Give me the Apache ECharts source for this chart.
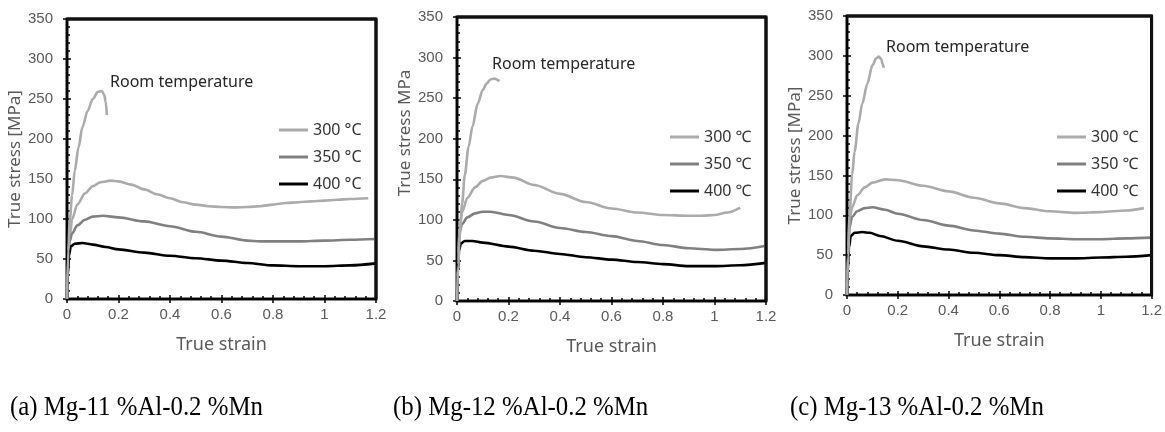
<!DOCTYPE html>
<html><head><meta charset="utf-8">
<script src="https://cdn.jsdelivr.net/npm/echarts@6/dist/echarts.min.js"></script>
<style>html,body{margin:0;padding:0;background:#fff}#c{width:1165px;height:432px}</style>
</head><body><div id="c"></div>
<script>
// ---------- text ----------
const panelCaptions = ['(a) Mg-11 %Al-0.2 %Mn', '(b) Mg-12 %Al-0.2 %Mn', '(c) Mg-13 %Al-0.2 %Mn'];
const yTitles = ['True stress [MPa]', 'True stress MPa', 'True stress [MPa]'];
const xTitle = 'True strain';
const rtLabel = 'Room temperature';
const legendNamesA = ['300 °C', '350 °C', '400 °C'];
const legendNamesBC = ['300 ℃', '350 ℃', '400 ℃'];

// ---------- axes ----------
const xMin = 0, xMax = 1.2, xStep = 0.2;
const yMin = 0, yMax = 350, yStep = 50;

// ---------- data: [true strain, true stress MPa] ----------
// (a) Mg-11%Al-0.2%Mn
const a_rt  = [[0,0],[0.005,60],[0.01,95],[0.02,130],[0.03,160],[0.045,190],[0.06,215],[0.08,235],[0.1,250],[0.12,259],[0.135,260],[0.145,255],[0.15,247],[0.155,230]];
const a_300 = [[0,0],[0.005,40],[0.01,75],[0.02,100],[0.04,118],[0.07,132],[0.1,141],[0.13,146],[0.17,148],[0.2,147],[0.25,143],[0.3,137],[0.35,131],[0.4,126],[0.45,121],[0.5,118],[0.55,116],[0.6,115],[0.65,114.5],[0.7,115],[0.75,116],[0.8,118],[0.85,120],[0.9,121],[0.95,122],[1.0,123],[1.05,124],[1.1,125],[1.17,126]];
const a_350 = [[0,0],[0.005,50],[0.01,72],[0.02,82],[0.04,92],[0.07,99],[0.1,103],[0.14,104],[0.2,102],[0.3,97],[0.4,91],[0.5,84],[0.6,78],[0.7,73],[0.75,72],[0.8,72],[0.9,72],[1.0,73],[1.1,74],[1.2,75]];
const a_400 = [[0,0],[0.003,30],[0.008,55],[0.015,66],[0.03,69],[0.06,70],[0.1,68],[0.15,65],[0.2,62],[0.3,58],[0.4,54],[0.5,51],[0.6,48],[0.7,45],[0.8,42],[0.9,41],[1.0,41],[1.1,42],[1.2,44.5]];
// (b) Mg-12%Al-0.2%Mn
const b_rt  = [[0,0],[0.005,45],[0.01,80],[0.02,120],[0.03,155],[0.045,190],[0.06,215],[0.08,243],[0.1,260],[0.115,268],[0.13,273],[0.145,274],[0.165,271]];
const b_300 = [[0,0],[0.005,50],[0.01,90],[0.02,110],[0.04,127],[0.07,140],[0.1,148],[0.13,152],[0.17,154],[0.22,152],[0.3,143],[0.4,132],[0.5,122],[0.6,114],[0.7,109],[0.8,106],[0.9,105],[0.95,105],[1.0,106],[1.05,109],[1.1,115]];
const b_350 = [[0,0],[0.005,55],[0.01,85],[0.02,95],[0.04,103],[0.07,108],[0.1,110],[0.13,110],[0.2,106],[0.3,98],[0.4,90],[0.5,85],[0.6,80],[0.7,74],[0.8,69],[0.9,65],[1.0,63],[1.1,64],[1.2,68]];
const b_400 = [[0,0],[0.003,35],[0.008,62],[0.015,71],[0.03,74],[0.06,74],[0.1,72],[0.2,67],[0.3,62],[0.4,58],[0.5,54],[0.6,51],[0.7,48],[0.8,45.5],[0.9,43],[1.0,43],[1.1,44],[1.2,47]];
// (c) Mg-13%Al-0.2%Mn
const c_rt  = [[0,0],[0.005,50],[0.01,100],[0.02,150],[0.03,180],[0.045,215],[0.06,240],[0.08,265],[0.1,288],[0.115,297],[0.125,299],[0.135,296],[0.14,290],[0.145,285]];
const c_300 = [[0,0],[0.005,60],[0.01,95],[0.02,110],[0.04,125],[0.07,135],[0.1,141],[0.15,145],[0.2,144],[0.3,137],[0.4,130],[0.5,122],[0.6,115],[0.7,109],[0.8,105],[0.9,103],[1.0,104],[1.1,106],[1.17,109]];
const c_350 = [[0,0],[0.005,50],[0.01,85],[0.02,98],[0.04,105],[0.07,109],[0.1,110],[0.15,107],[0.2,102],[0.3,94],[0.4,87],[0.5,81],[0.6,77],[0.7,73],[0.8,71],[0.9,70],[1.0,70],[1.1,71],[1.2,72]];
const c_400 = [[0,0],[0.003,30],[0.008,60],[0.015,74],[0.03,78],[0.06,79],[0.09,78],[0.13,74],[0.2,68],[0.3,61],[0.4,57],[0.5,53],[0.6,50],[0.7,47.5],[0.8,46],[0.9,46],[1.0,47],[1.1,48],[1.2,50]];

const panels = [
  {rt: a_rt, s300: a_300, s350: a_350, s400: a_400, names: legendNamesA},
  {rt: b_rt, s300: b_300, s350: b_350, s400: b_400, names: legendNamesBC},
  {rt: c_rt, s300: c_300, s350: c_350, s400: c_400, names: legendNamesBC}
];

// ---------- layout / style ----------
const gridPos = [
  {left: 67, top: 19, width: 309, height: 280},
  {left: 457, top: 17, width: 309, height: 284},
  {left: 847, top: 16, width: 306, height: 279}
];
const yNameGap = [41, 42, 41];
const yNamePad = [[0,0,0,0],[0,0,0,52],[0,0,0,0]];
const legendPos = [{left: 279, top: 122}, {left: 670, top: 129}, {left: 1057, top: 129}];
const rtPos = [{x: 110, y: 85}, {x: 492, y: 67}, {x: 886, y: 50}];
const captionX = [10, 393, 790];
const colors = {rt: '#ababab', s300: '#ababab', s350: '#808080', s400: '#000000'};
const gray = '#595959';

const grid = [], xAxis = [], yAxis = [], series = [], legend = [], graphic = [];

panels.forEach((p, i) => {
  const g = gridPos[i];
  grid.push(Object.assign({show: true, borderColor: '#111', borderWidth: 3, backgroundColor: 'transparent'}, g));
  xAxis.push({
    type: 'value', gridIndex: i, min: xMin, max: xMax, interval: xStep, position: 'bottom',
    name: xTitle, nameLocation: 'middle', nameGap: 37,
    nameTextStyle: {fontFamily: 'Noto Sans', fontSize: 18, color: gray},
    axisLine: {show: true, onZero: false, lineStyle: {color: '#000', width: 2}},
    axisTick: {show: true, inside: true, length: 4, lineStyle: {color: '#000', width: 1.5}},
    minorTick: {show: true, splitNumber: 5, length: 3, lineStyle: {color: '#000', width: 1.5}},
    axisLabel: {margin: 8, fontFamily: 'Liberation Sans', fontSize: 15, color: gray},
    splitLine: {show: false}, minorSplitLine: {show: false}
  });
  // outer half of the crossing major ticks
  xAxis.push({
    type: 'value', gridIndex: i, min: xMin, max: xMax, interval: xStep, position: 'bottom',
    axisLine: {show: false, onZero: false},
    axisTick: {show: true, inside: false, length: 4, lineStyle: {color: '#000', width: 1.5}},
    axisLabel: {show: false}, splitLine: {show: false}
  });
  yAxis.push({
    type: 'value', gridIndex: i, min: yMin, max: yMax, interval: yStep, position: 'left',
    name: yTitles[i], nameLocation: 'middle', nameGap: yNameGap[i],
    nameTextStyle: {fontFamily: 'Noto Sans', fontSize: 17, color: gray, padding: yNamePad[i]},
    axisLine: {show: true, onZero: false, lineStyle: {color: '#000', width: 2}},
    axisTick: {show: true, inside: true, length: 4, lineStyle: {color: '#000', width: 1.5}},
    minorTick: {show: true, splitNumber: 5, length: 3, lineStyle: {color: '#000', width: 1.5}},
    axisLabel: {margin: 14, fontFamily: 'Liberation Sans', fontSize: 15, color: gray},
    splitLine: {show: false}, minorSplitLine: {show: false}
  });
  yAxis.push({
    type: 'value', gridIndex: i, min: yMin, max: yMax, interval: yStep, position: 'left',
    axisLine: {show: false, onZero: false},
    axisTick: {show: true, inside: false, length: 4, lineStyle: {color: '#000', width: 1.5}},
    axisLabel: {show: false}, splitLine: {show: false}
  });
  const mk = (name, data, color) => ({
    type: 'line', name, data, xAxisIndex: 2 * i, yAxisIndex: 2 * i,
    showSymbol: false, smooth: 0.3, smoothMonotone: 'x', silent: true,
    lineStyle: {color, width: 2.6}, itemStyle: {color}, z: 3
  });
  series.push(mk(p.names[0], p.s300, colors.s300));
  series.push(mk(p.names[1], p.s350, colors.s350));
  series.push(mk(p.names[2], p.s400, colors.s400));
  series.push(mk(rtLabel + ' ' + i, p.rt, colors.rt));
  // top and right sides of the plot box, placed through the axes' own scales
  series.push({
    type: 'line', name: 'frame ' + i, xAxisIndex: 2 * i, yAxisIndex: 2 * i,
    data: [[xMin, yMax], [xMax, yMax], [xMax, yMin]],
    showSymbol: false, silent: true, clip: false, z: 5,
    lineStyle: {color: '#111', width: 3}, itemStyle: {color: '#111'}
  });
  legend.push({
    data: p.names, orient: 'vertical', left: legendPos[i].left, top: legendPos[i].top,
    icon: 'rect', itemWidth: 29, itemHeight: 3, itemGap: 11, padding: 0,
    selectedMode: false,
    textStyle: {fontFamily: 'Noto Sans', fontSize: 16, color: '#333'}
  });
  graphic.push({
    type: 'text', left: rtPos[i].x, top: rtPos[i].y - 11,
    style: {text: rtLabel, fontFamily: 'Noto Sans', fontSize: 16, fill: '#262626'}
  });
  graphic.push({
    type: 'text', x: captionX[i], y: 394, scaleX: 0.92,
    style: {text: panelCaptions[i], fontFamily: 'Liberation Serif', fontSize: 27, fill: '#000'}
  });
});

const chart = echarts.init(document.getElementById('c'), null, {renderer: 'canvas'});
chart.setOption({
  animation: false,
  grid, xAxis, yAxis, series, legend, graphic
});
</script></body></html>
